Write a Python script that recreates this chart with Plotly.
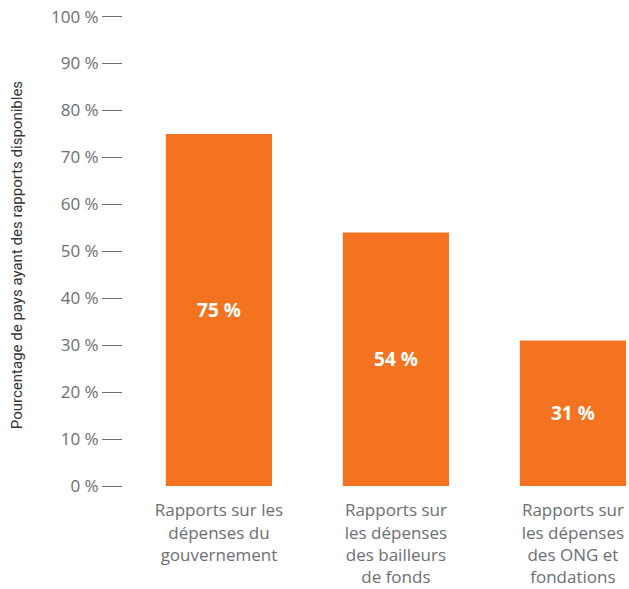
import plotly.graph_objects as go

# Share of countries with available spending reports, by report type
categories = [
    "Rapports sur les<br>dépenses du<br>gouvernement",
    "Rapports sur<br>les dépenses<br>des bailleurs<br>de fonds",
    "Rapports sur<br>les dépenses<br>des ONG et<br>fondations",
]
values = [75, 54, 31]
y_ticks = [0, 10, 20, 30, 40, 50, 60, 70, 80, 90, 100]

ORANGE = "#F37321"
GREY = "#6D6E71"
FONT = "Open Sans"

fig = go.Figure(
    go.Bar(
        x=categories,
        y=values,
        marker=dict(color=ORANGE, line=dict(width=0)),
        text=[f"{v} %" for v in values],
        textposition="inside",
        insidetextanchor="middle",
        textfont=dict(family=FONT, size=19, color="white", weight="bold"),
        textangle=0,
        hoverinfo="skip",
    )
)

fig.update_layout(
    width=629,
    height=589,
    margin=dict(l=123, r=0, t=10, b=103),
    paper_bgcolor="white",
    plot_bgcolor="white",
    bargap=0.4,
    showlegend=False,
    font=dict(family=FONT, color=GREY),
)

fig.update_xaxes(
    range=[-0.542, 2.317],
    showgrid=False,
    showline=False,
    zeroline=False,
    ticks="outside",
    ticklen=9,
    tickcolor="rgba(0,0,0,0)",
    tickfont=dict(family=FONT, size=17, color=GREY, weight=400),
    automargin=False,
)

fig.update_yaxes(
    range=[0, 101.4],
    tickvals=y_ticks,
    ticktext=[f"{t} %" for t in y_ticks],
    showgrid=False,
    showline=False,
    zeroline=False,
    ticks="outside",
    ticklen=20,
    tickwidth=1,
    tickcolor=GREY,
    tickfont=dict(family=FONT, size=17, color=GREY, weight=400),
    automargin=False,
)

fig.add_annotation(
    text="Pourcentage de pays ayant des rapports disponibles",
    xref="paper",
    yref="paper",
    x=(17 - 123) / 506,
    y=0.485,
    xanchor="center",
    yanchor="middle",
    textangle=-90,
    showarrow=False,
    font=dict(family="Roboto", size=15, color="#333333"),
)

fig.write_html("out.html")
